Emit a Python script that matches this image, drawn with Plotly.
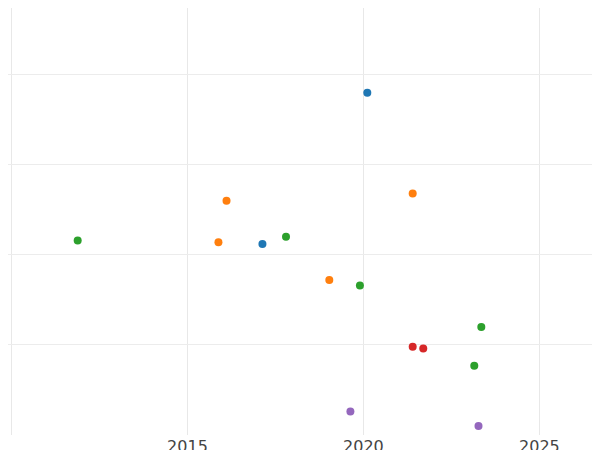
import plotly.graph_objects as go

blue_x = [2020.11, 2017.13]
blue_y = [3.8, 2.12]
orange_x = [2016.11, 2015.88, 2021.4, 2019.03]
orange_y = [2.6, 2.14, 2.68, 1.72]
green_x = [2011.88, 2017.8, 2019.9, 2023.35, 2023.15]
green_y = [2.16, 2.2, 1.66, 1.2, 0.77]
red_x = [2021.4, 2021.7]
red_y = [0.98, 0.96]
purple_x = [2019.63, 2023.27]
purple_y = [0.26, 0.1]

series = [(blue_x, blue_y, "#1f77b4"), (orange_x, orange_y, "#ff7f0e"),
          (green_x, green_y, "#2ca02c"), (red_x, red_y, "#d62728"),
          (purple_x, purple_y, "#9467bd")]

fig = go.Figure()
for xs, ys, c in series:
    fig.add_trace(go.Scatter(x=xs, y=ys, mode="markers",
                             marker=dict(color=c, size=8), showlegend=False))

fig.update_layout(
    width=600, height=450, margin=dict(l=0, r=0, t=0, b=23, autoexpand=False),
    plot_bgcolor="white", paper_bgcolor="white",
    font=dict(family="DejaVu Sans", size=16, color="#444"),
    xaxis=dict(range=[2009.9, 2026.95], tickvals=[2010, 2015, 2020, 2025],
               ticktext=["", "2015", "2020", "2025"], automargin=False,
               showgrid=True, gridcolor="#e8e8e8", zeroline=False, showline=False),
    yaxis=dict(range=[0, 4.74], tickvals=[1, 2, 3, 4], showticklabels=False, automargin=False,
               showgrid=True, gridcolor="#ececec", zeroline=False, showline=False),
)
fig.write_html("out.html")
